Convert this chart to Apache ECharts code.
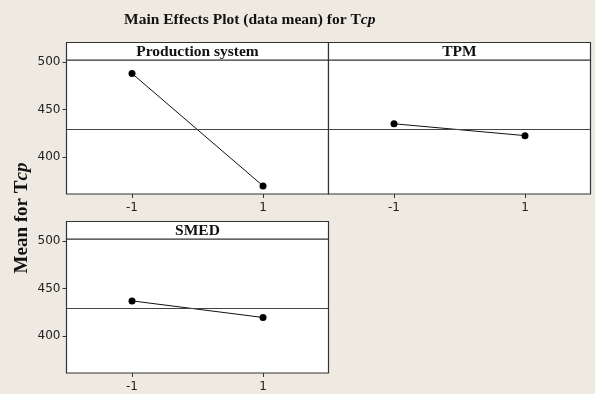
<!DOCTYPE html>
<html><head><meta charset="utf-8">
<script src="https://cdn.jsdelivr.net/npm/echarts@6/dist/echarts.min.js"></script>
<style>html,body{margin:0;padding:0;background:#EEEAE1;}#c{width:595px;height:394px;}</style>
</head><body><div id="c"></div>
<script>
const factors = ['Production system', 'TPM', 'SMED'];
const levels = [-1, 1];
const prodMeans = [488, 369.5];
const tpmMeans = [435, 422.5];
const smedMeans = [437, 419.5];
const grandMean = 428.8;
const yTickValues = [400, 450, 500];
const xTickValues = [-1, 1];

const seriesMeans = [prodMeans, tpmMeans, smedMeans];
const grids = [
  {left: 66.5, top: 60, width: 262, height: 134},
  {left: 328.5, top: 60, width: 262, height: 134},
  {left: 66.5, top: 239, width: 262, height: 134}
];
const stripH = 17.5;
const serif = '"Liberation Serif","Times New Roman",serif';
const sans = '"DejaVu Sans",Tahoma,sans-serif';

const option = {
  backgroundColor: '#EEEAE1',
  animation: false,
  grid: grids.map(g => Object.assign({show: true, backgroundColor: '#fff', borderColor: '#333', borderWidth: 1.2}, g)),
  xAxis: grids.map((g, i) => ({
    type: 'value', gridIndex: i, min: -2, max: 2,
    axisLine: {show: false, onZero: false},
    splitLine: {show: false},
    axisTick: {show: true, length: 4, customValues: xTickValues, lineStyle: {color: '#333'}},
    axisLabel: {customValues: xTickValues, color: '#222', fontFamily: sans, fontSize: 12, margin: 8}
  })),
  yAxis: grids.map((g, i) => ({
    type: 'value', gridIndex: i, min: 361, max: 502.2,
    axisLine: {show: false, onZero: false},
    splitLine: {show: false},
    axisTick: {show: i !== 1, length: 4, customValues: yTickValues, lineStyle: {color: '#333'}},
    axisLabel: {show: i !== 1, customValues: yTickValues, color: '#222', fontFamily: sans, fontSize: 12, margin: 6}
  })),
  series: seriesMeans.map((m, i) => ({
    type: 'line', xAxisIndex: i, yAxisIndex: i,
    data: levels.map((l, k) => [l, m[k]]),
    symbol: 'circle', symbolSize: 7,
    itemStyle: {color: '#000'},
    lineStyle: {color: '#111', width: 1},
    markLine: {
      silent: true, symbol: 'none', label: {show: false},
      lineStyle: {color: '#444', width: 1, type: 'solid'},
      data: [{yAxis: grandMean}]
    }
  })),
  graphic: [
    ...grids.map((g, i) => ({
      type: 'rect',
      shape: {x: g.left, y: g.top - stripH, width: g.width, height: stripH},
      style: {fill: '#fff', stroke: '#333', lineWidth: 1.2}
    })),
    ...grids.map((g, i) => ({
      type: 'text',
      x: g.left + g.width / 2, y: g.top - stripH / 2 + 0.5,
      style: {text: factors[i], font: 'bold 15.5px ' + serif, fill: '#111', align: 'center', verticalAlign: 'middle'}
    })),
    {
      type: 'text', x: 124, y: 20,
      style: {
        text: '{b|Main Effects Plot (data mean) for T}{i|cp}',
        verticalAlign: 'middle',
        rich: {
          b: {font: 'bold 15.5px ' + serif, fill: '#111'},
          i: {font: 'italic bold 15.5px ' + serif, fill: '#111'}
        }
      }
    },
    {
      type: 'text', x: 22, y: 218, rotation: Math.PI / 2,
      style: {
        text: '{b|Mean for T}{i|cp}',
        align: 'center', verticalAlign: 'middle',
        rich: {
          b: {font: 'bold 19px ' + serif, fill: '#111'},
          i: {font: 'italic bold 19px ' + serif, fill: '#111'}
        }
      }
    }
  ]
};
const chart = echarts.init(document.getElementById('c'), null, {renderer: 'canvas'});
chart.setOption(option);
</script></body></html>
